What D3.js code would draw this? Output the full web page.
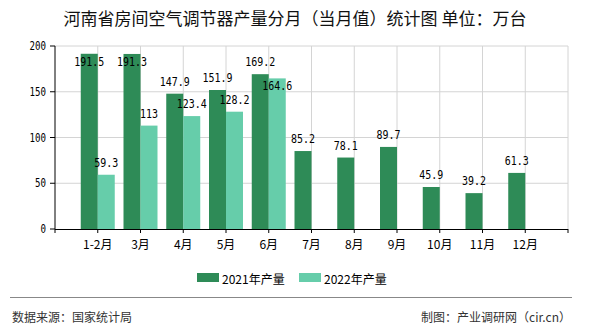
<!DOCTYPE html>
<html><head><meta charset="utf-8">
<script src="https://cdn.jsdelivr.net/npm/d3@7/dist/d3.min.js"></script>
<style>body{margin:0;background:#fff;}svg{display:block;}</style>
</head><body>
<svg id="c" width="590" height="330"></svg>
<script>
const categories = ["1-2月","3月","4月","5月","6月","7月","8月","9月","10月","11月","12月"];
const values2021 = [191.5,191.3,147.9,151.9,169.2,85.2,78.1,89.7,45.9,39.2,61.3];
const values2022 = [59.3,113,123.4,128.2,164.6,null,null,null,null,null,null];
const yTicks = [0,50,100,150,200];
const seriesNames = ["2021年产量","2022年产量"];
const colors = ["#2E8B57","#66CDAA"];

const svg = d3.select("#c");
const L=55,R=568,T=46,B=229;
const cjk = "'Noto Sans CJK SC', sans-serif";
const mono = "'DejaVu Sans Mono', monospace";

const x = d3.scalePoint().domain(["_s",...categories,"_e"]).range([L,R]);
const y = d3.scaleLinear().domain([0,200]).range([B,T]);
const bw = 17;

// title
svg.append("text").attr("x",295).attr("y",25).attr("text-anchor","middle")
  .attr("font-family",cjk).attr("font-size",17).attr("fill","#111")
  .text("河南省房间空气调节器产量分月（当月值）统计图 单位：万台");

// grid
const g = svg.append("g");
yTicks.filter(d=>d>0).forEach(d=>{
  g.append("line").attr("x1",L).attr("x2",R).attr("y1",y(d)).attr("y2",y(d)).attr("stroke","#d4d4d4");
});
x.domain().slice(1).forEach(c=>{
  g.append("line").attr("x1",x(c)).attr("x2",x(c)).attr("y1",T).attr("y2",B).attr("stroke","#d4d4d4");
});

// bars
const bars = svg.append("g");
categories.forEach((c,i)=>{
  const v1 = values2021[i], v2 = values2022[i];
  bars.append("rect").attr("x",x(c)-bw).attr("width",bw).attr("y",y(v1)).attr("height",B-y(v1)).attr("fill",colors[0]);
  if(v2!=null) bars.append("rect").attr("x",x(c)).attr("width",bw).attr("y",y(v2)).attr("height",B-y(v2)).attr("fill",colors[1]);
});

// labels
function lab(xc,yc,t){
  svg.append("text").attr("x",xc).attr("y",yc).attr("text-anchor","middle").attr("dominant-baseline","central")
    .attr("font-family",mono).attr("font-size",12).attr("fill","#000")
    .attr("textLength",String(t).length*6).attr("lengthAdjust","spacingAndGlyphs").text(t);
}
categories.forEach((c,i)=>{
  const v1 = values2021[i], v2 = values2022[i];
  let y1 = Math.max(y(v1)-12, 62);
  lab(x(c)-bw/2, y1, v1);
  if(v2!=null){
    let y2 = Math.max(y(v2)-12, 62);
    if(Math.abs(y2-y1)<14) y2 = y1+24;
    lab(x(c)+bw/2, y2, v2);
  }
});

// axes
svg.append("line").attr("x1",L).attr("x2",L).attr("y1",T).attr("y2",B).attr("stroke","#000");
svg.append("line").attr("x1",L).attr("x2",R).attr("y1",B+0.5).attr("y2",B+0.5).attr("stroke","#000");
yTicks.forEach(d=>{
  svg.append("line").attr("x1",L-5).attr("x2",L).attr("y1",y(d)).attr("y2",y(d)).attr("stroke","#000");
  svg.append("text").attr("x",L-9).attr("y",y(d)).attr("text-anchor","end").attr("dominant-baseline","central")
    .attr("font-family",mono).attr("font-size",12).attr("fill","#000")
    .attr("textLength",String(d).length*5.5).attr("lengthAdjust","spacingAndGlyphs").text(d);
});
x.domain().forEach(c=>{
  svg.append("line").attr("x1",x(c)).attr("x2",x(c)).attr("y1",B).attr("y2",B+4).attr("stroke","#000");
});
categories.forEach(c=>{
  svg.append("text").attr("x",x(c)).attr("y",243).attr("text-anchor","middle").attr("dominant-baseline","central")
    .attr("font-family",cjk).attr("font-size",12).attr("fill","#000").text(c);
});

// legend
const lx=[197,299];
seriesNames.forEach((n,i)=>{
  svg.append("rect").attr("x",lx[i]).attr("y",273).attr("width",22).attr("height",9).attr("fill",colors[i]);
  svg.append("text").attr("x",lx[i]+25).attr("y",278).attr("dominant-baseline","central")
    .attr("font-family",cjk).attr("font-size",12).attr("fill","#000").text(n);
});

// footer
svg.append("line").attr("x1",10).attr("x2",572).attr("y1",297.5).attr("y2",297.5).attr("stroke","#888");
svg.append("text").attr("x",12).attr("y",316).attr("dominant-baseline","central")
  .attr("font-family",cjk).attr("font-size",12).attr("fill","#333").text("数据来源：国家统计局");
svg.append("text").attr("x",571).attr("y",316).attr("text-anchor","end").attr("dominant-baseline","central")
  .attr("font-family",cjk).attr("font-size",12).attr("fill","#333").text("制图：产业调研网（cir.cn）");
</script>
</body></html>
